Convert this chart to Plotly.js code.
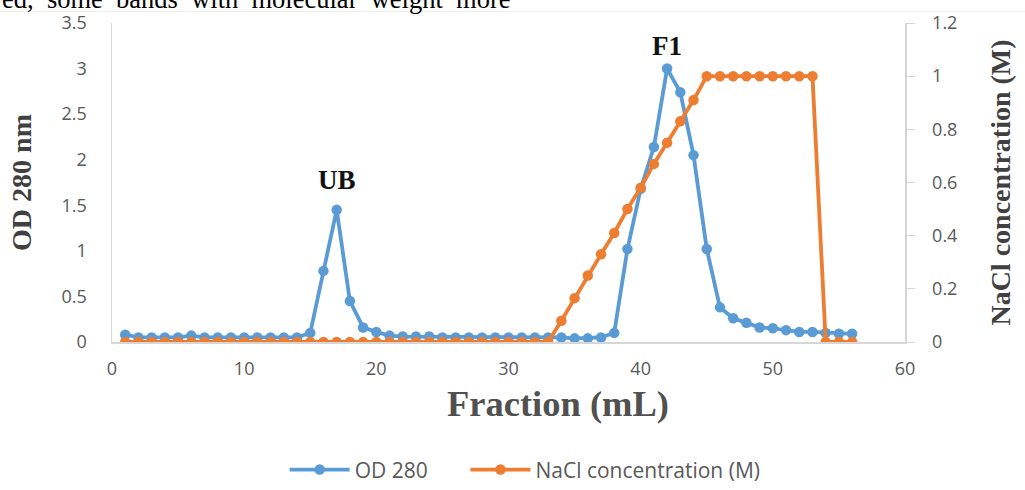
<!DOCTYPE html>
<html>
<head>
<meta charset="utf-8">
<script src="https://cdn.plot.ly/plotly-3.0.1.min.js"></script>
<style>html,body{margin:0;padding:0;background:#fff;}#chart{width:1025px;height:490px;}</style>
</head>
<body>
<div id="chart"></div>
<script>
var fractions = [];
for (var i = 1; i <= 56; i++) fractions.push(i);

var od280 = [0.08,0.05,0.05,0.05,0.05,0.07,0.05,0.05,0.05,0.05,0.05,0.05,0.05,0.05,0.10,0.78,1.45,0.45,0.16,0.11,0.07,0.06,0.06,0.06,0.05,0.05,0.05,0.05,0.05,0.05,
             0.05,0.05,0.05,0.05,0.04,0.04,0.05,0.10,1.02,1.68,2.14,3.00,2.74,2.05,1.02,0.38,0.26,0.21,0.16,0.15,0.13,0.11,0.11,0.10,0.09,0.09];

var nacl = [0,0,0,0,0,0,0,0,0,0,0,0,0,0,0,0,0,0,0,0,0,0,0,0,0,0,0,0,0,0,
            0,0,0,0.08,0.165,0.25,0.33,0.41,0.50,0.58,0.67,0.75,0.83,0.91,1.0,1.0,1.0,1.0,1.0,1.0,1.0,1.0,1.0,0,0,0];

var seriesNames = ["OD 280", "NaCl concentration (M)"];
var peakLabels = ["UB", "F1"];
var peakLabelX = [17, 42];
var peakLabelY = [1.78, 3.25];

var blue = "#5B9BD5", orange = "#ED7D31";
var tickFont = {family: "Open Sans, sans-serif", size: 18, color: "#595959"};
var serif = "Liberation Serif, Times New Roman, serif";

var traces = [
  {x: fractions, y: od280, name: seriesNames[0] + "&nbsp;&nbsp;&nbsp;&nbsp;&nbsp;&nbsp;", type: "scatter", mode: "lines+markers",
   line: {color: blue, width: 3.8}, marker: {color: blue, size: 10.5}},
  {x: fractions, y: nacl, name: seriesNames[1], type: "scatter", mode: "lines+markers",
   yaxis: "y2", line: {color: orange, width: 3.8}, marker: {color: orange, size: 10.5}}
];

var annotations = [];
for (var k = 0; k < peakLabels.length; k++) {
  annotations.push({x: peakLabelX[k], y: peakLabelY[k], xref: "x", yref: "y", text: "<b>" + peakLabels[k] + "</b>",
    showarrow: false, yanchor: "middle",
    font: {family: serif, size: 27, color: "#111"}});
}
// x-axis title (offset to the right of the plot centre, as in the original)
annotations.push({xref: "paper", yref: "paper", x: 0.562, y: -0.194, xanchor: "center", yanchor: "middle",
  text: "<b>Fraction (mL)</b>", showarrow: false,
  font: {family: serif, size: 36.5, color: "#505050"}});
annotations.push({xref: "paper", yref: "paper", x: -112/793, y: 1.022, xanchor: "left", yanchor: "bottom",
  text: "ed,  some  bands  with  molecular  weight  more", showarrow: false,
  font: {family: serif, size: 26.5, color: "#000"}});

var layout = {
  width: 1025, height: 490,
  margin: {l: 112, r: 120, t: 23, b: 148},
  paper_bgcolor: "#fff", plot_bgcolor: "#fff",
  showlegend: true,
  legend: {orientation: "h", xref: "paper", x: 0.521, xanchor: "center",
    yref: "container", y: 0.041, yanchor: "middle", itemwidth: 60,
    font: {family: "Open Sans, sans-serif", size: 21, color: "#595959"}},
  xaxis: {range: [0, 60], dtick: 10, tick0: 0, showgrid: false, zeroline: false,
    showline: true, linecolor: "#d6d6d6", linewidth: 1.5, ticks: "", tickfont: tickFont,
    ticklabelstandoff: 10},
  yaxis: {range: [0, 3.5], dtick: 0.5, showgrid: false, zeroline: false,
    showline: true, linecolor: "#d6d6d6", linewidth: 1.5, ticks: "", tickfont: tickFont,
    ticklabelstandoff: 20,
    title: {text: "<b>OD 280 nm</b>", font: {family: serif, size: 28, color: "#404040"}, standoff: 22}},
  yaxis2: {range: [0, 1.2], dtick: 0.2, overlaying: "y", side: "right", showgrid: false, zeroline: false,
    showline: true, linecolor: "#d6d6d6", linewidth: 1.5, ticks: "outside", ticklen: 8, tickcolor: "#d6d6d6",
    tickfont: tickFont, ticklabelstandoff: 14,
    title: {text: "<b>NaCl concentration (M)</b>", font: {family: serif, size: 28, color: "#404040"}, standoff: 34}},
  annotations: annotations,
  shapes: [{type: "line", xref: "paper", yref: "paper", x0: -112/793, x1: 913/793, y0: 1.036, y1: 1.036,
    line: {color: "#eeeeee", width: 1}}]
};

Plotly.newPlot("chart", traces, layout, {displayModeBar: false, staticPlot: true});
</script>
</body>
</html>
